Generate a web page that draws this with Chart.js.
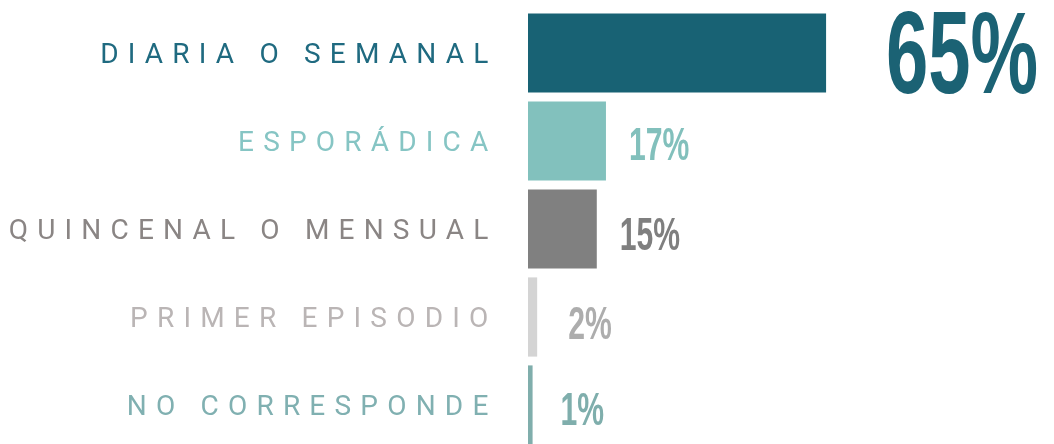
<!DOCTYPE html>
<html>
<head>
<meta charset="utf-8">
<script src="https://cdn.jsdelivr.net/npm/chart.js"></script>
<style>
  html, body { margin: 0; padding: 0; background: #fff; overflow: hidden; }
  #wrap { width: 1054px; height: 450px; }
</style>
</head>
<body>
<div id="wrap"><canvas id="chart" width="1054" height="450"></canvas></div>
<script>
const categories = ['DIARIA O SEMANAL', 'ESPORÁDICA', 'QUINCENAL O MENSUAL', 'PRIMER EPISODIO', 'NO CORRESPONDE'];
const values = [65, 17, 15, 2, 1];
const valueLabels = values.map(v => v + '%');

// colours per row
const barColors = ['#186274', '#82c1bd', '#808080', '#d4d4d4', '#80aeac'];
const labelColors = ['#1f6a80', '#86c5c4', '#8a8584', '#bab5b5', '#80b0b1'];
const valueColors = ['#1b6274', '#82c0bc', '#7f7f7f', '#adadad', '#7faeac'];
// size and nudge of the percentage numbers
const valueSizes = [116, 46, 46, 46, 46];
const valueDx = [60, 23, 23, 31, 28];
const valueDy = [40, 19, 21, 22, 20];

// draws the spaced-out category names and the narrow percentage numbers
const textPlugin = {
    id: 'rowText',
    afterDatasetsDraw(chart) {
        const ctx = chart.ctx;
        const meta = chart.getDatasetMeta(0);
        meta.data.forEach((bar, i) => {
            // category label
            ctx.save();
            ctx.font = '400 28px Roboto';
            ctx.letterSpacing = '9.2px';
            ctx.fillStyle = labelColors[i];
            ctx.textAlign = 'right';
            ctx.textBaseline = 'alphabetic';
            ctx.fillText(categories[i], 497.5, bar.y + 9.5);
            ctx.restore();

            // value label
            const size = valueSizes[i];
            ctx.save();
            ctx.fillStyle = valueColors[i];
            ctx.font = 'bold ' + size + 'px "Liberation Sans"';
            ctx.textAlign = 'left';
            ctx.textBaseline = 'alphabetic';
            ctx.translate(bar.x + valueDx[i], bar.y + valueDy[i]);
            ctx.scale(0.655, 1);
            ctx.fillText(valueLabels[i], 0, 0);
            ctx.restore();
        });
    }
};

const ctx = document.getElementById('chart').getContext('2d');
const myChart = new Chart(ctx, {
    type: 'bar',
    data: {
        labels: categories,
        datasets: [{
            data: values,
            backgroundColor: barColors,
            borderWidth: 0,
            barPercentage: 0.9,
            categoryPercentage: 1
        }]
    },
    options: {
        indexAxis: 'y',
        responsive: false,
        devicePixelRatio: 1,
        animation: false,
        layout: { padding: { left: 528, right: 0, top: 9, bottom: 1 } },
        scales: {
            x: { display: false, min: 0, max: 114.7 },
            y: { display: false }
        },
        plugins: {
            legend: { display: false },
            tooltip: { enabled: false }
        }
    },
    plugins: [textPlugin]
});
</script>
</body>
</html>
